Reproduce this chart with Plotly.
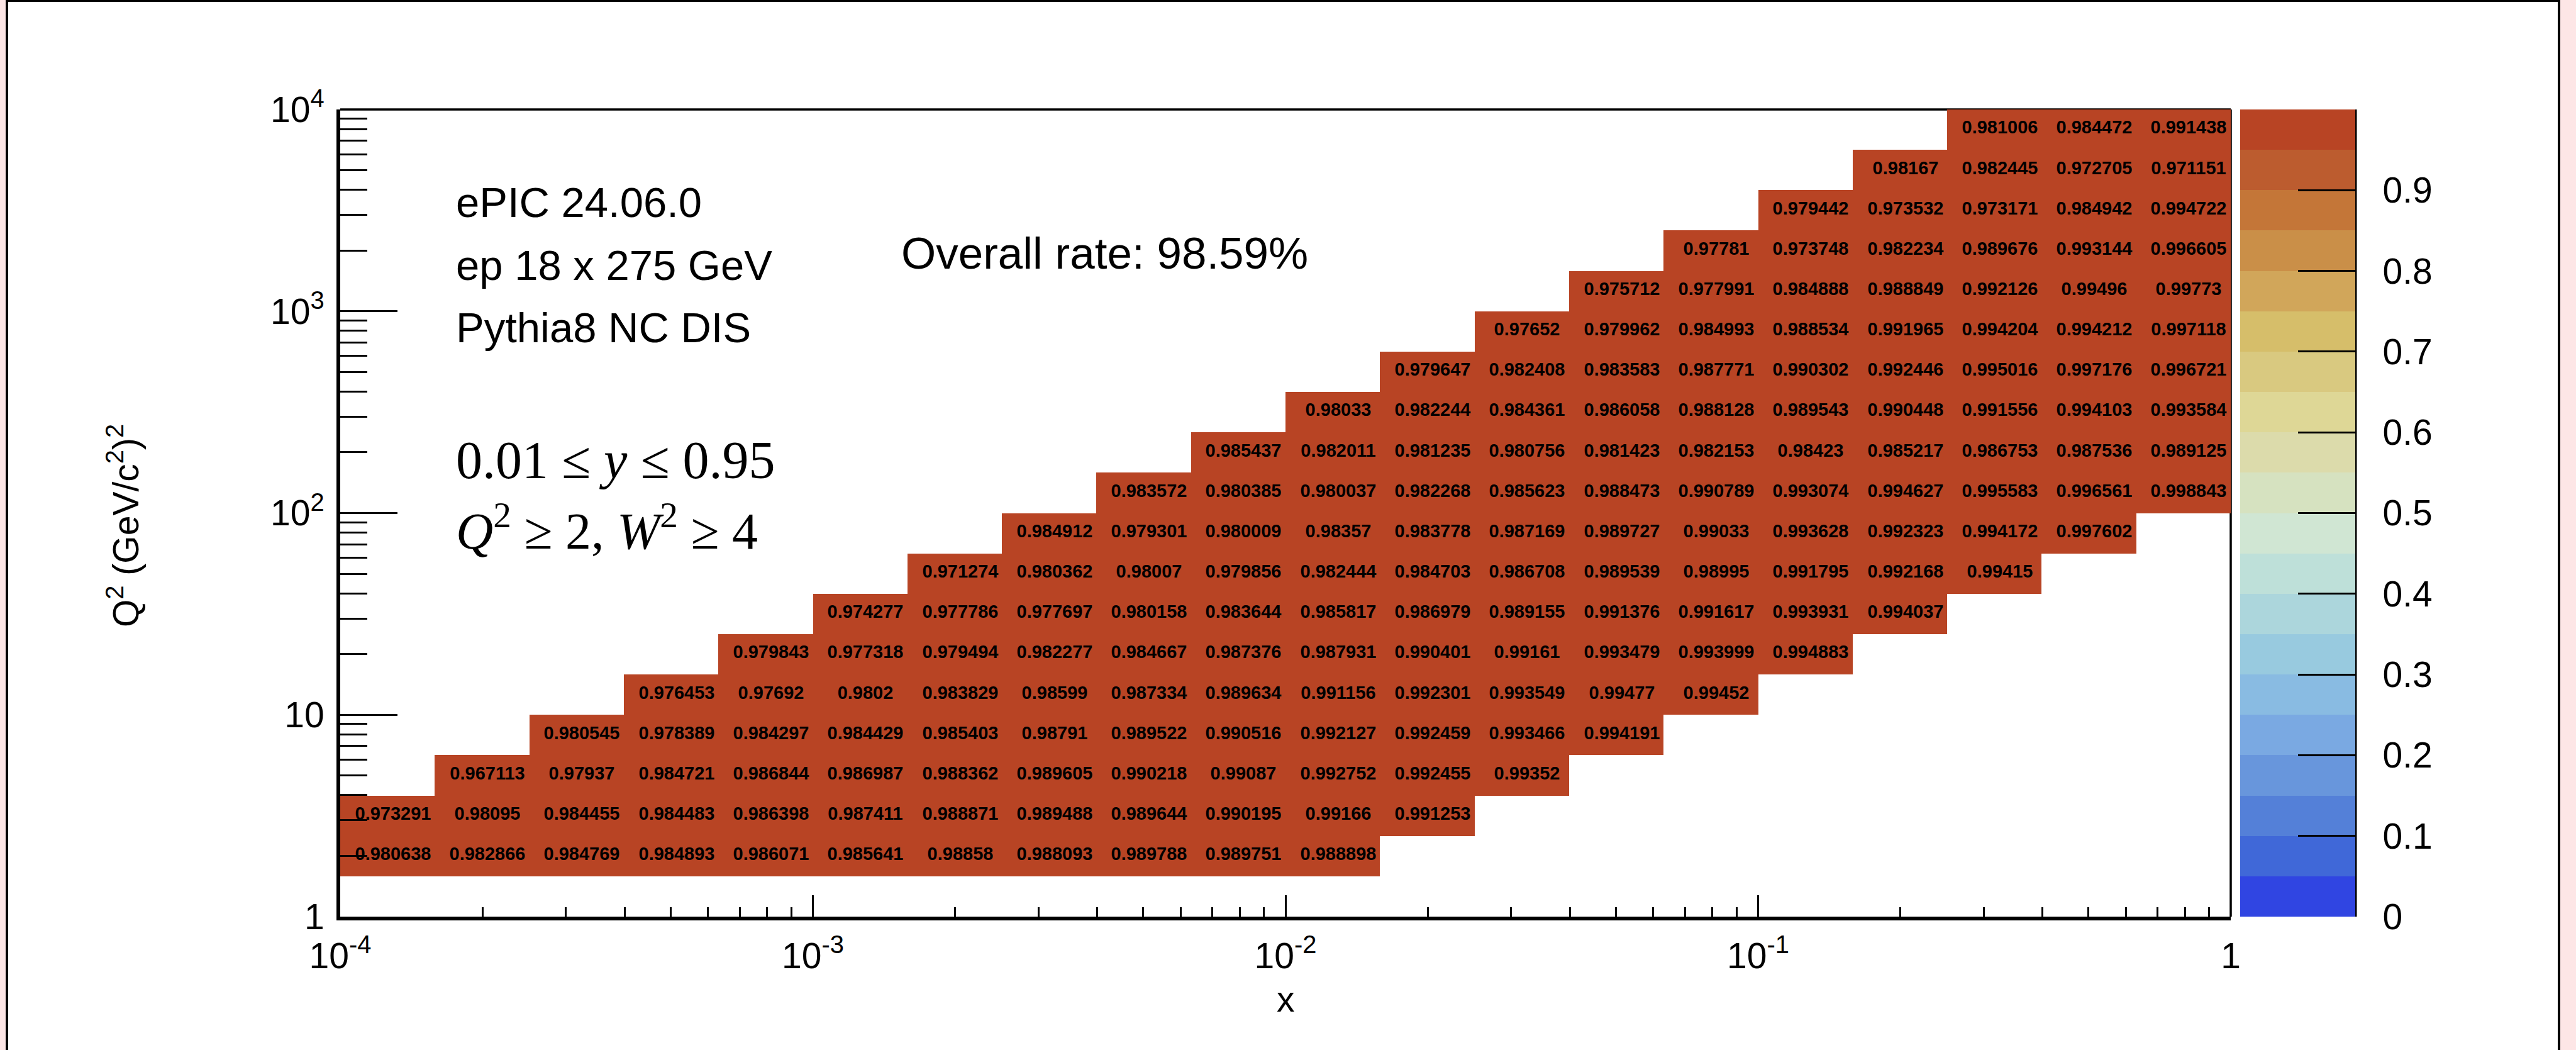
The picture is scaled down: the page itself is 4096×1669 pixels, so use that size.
import plotly.graph_objects as go

# ---------------- data ----------------
# log-spaced bin edges: 20 bins in x (1e-4 .. 1) and 20 bins in Q2 (1 .. 1e4)
x_edges = [10 ** (-4 + 0.2 * i) for i in range(21)]
q2_edges = [10 ** (0.2 * j) for j in range(21)]

# reconstruction rate per (x, Q2) bin; each Q2 row starts at the x bin given in first_x_bin
q2_bin_01 = [0.980638, 0.982866, 0.984769, 0.984893, 0.986071, 0.985641, 0.98858, 0.988093, 0.989788, 0.989751, 0.988898]
q2_bin_02 = [0.973291, 0.98095, 0.984455, 0.984483, 0.986398, 0.987411, 0.988871, 0.989488, 0.989644, 0.990195, 0.99166, 0.991253]
q2_bin_03 = [0.967113, 0.97937, 0.984721, 0.986844, 0.986987, 0.988362, 0.989605, 0.990218, 0.99087, 0.992752, 0.992455, 0.99352]
q2_bin_04 = [0.980545, 0.978389, 0.984297, 0.984429, 0.985403, 0.98791, 0.989522, 0.990516, 0.992127, 0.992459, 0.993466, 0.994191]
q2_bin_05 = [0.976453, 0.97692, 0.9802, 0.983829, 0.98599, 0.987334, 0.989634, 0.991156, 0.992301, 0.993549, 0.99477, 0.99452]
q2_bin_06 = [0.979843, 0.977318, 0.979494, 0.982277, 0.984667, 0.987376, 0.987931, 0.990401, 0.99161, 0.993479, 0.993999, 0.994883]
q2_bin_07 = [0.974277, 0.977786, 0.977697, 0.980158, 0.983644, 0.985817, 0.986979, 0.989155, 0.991376, 0.991617, 0.993931, 0.994037]
q2_bin_08 = [0.971274, 0.980362, 0.98007, 0.979856, 0.982444, 0.984703, 0.986708, 0.989539, 0.98995, 0.991795, 0.992168, 0.99415]
q2_bin_09 = [0.984912, 0.979301, 0.980009, 0.98357, 0.983778, 0.987169, 0.989727, 0.99033, 0.993628, 0.992323, 0.994172, 0.997602]
q2_bin_10 = [0.983572, 0.980385, 0.980037, 0.982268, 0.985623, 0.988473, 0.990789, 0.993074, 0.994627, 0.995583, 0.996561, 0.998843]
q2_bin_11 = [0.985437, 0.982011, 0.981235, 0.980756, 0.981423, 0.982153, 0.98423, 0.985217, 0.986753, 0.987536, 0.989125]
q2_bin_12 = [0.98033, 0.982244, 0.984361, 0.986058, 0.988128, 0.989543, 0.990448, 0.991556, 0.994103, 0.993584]
q2_bin_13 = [0.979647, 0.982408, 0.983583, 0.987771, 0.990302, 0.992446, 0.995016, 0.997176, 0.996721]
q2_bin_14 = [0.97652, 0.979962, 0.984993, 0.988534, 0.991965, 0.994204, 0.994212, 0.997118]
q2_bin_15 = [0.975712, 0.977991, 0.984888, 0.988849, 0.992126, 0.99496, 0.99773]
q2_bin_16 = [0.97781, 0.973748, 0.982234, 0.989676, 0.993144, 0.996605]
q2_bin_17 = [0.979442, 0.973532, 0.973171, 0.984942, 0.994722]
q2_bin_18 = [0.98167, 0.982445, 0.972705, 0.971151]
q2_bin_19 = [0.981006, 0.984472, 0.991438]

first_x_bin = [None, 0, 0, 1, 2, 3, 4, 5, 6, 7, 8, 9, 10, 11, 12, 13, 14, 15, 16, 17]
row_values = [None, q2_bin_01, q2_bin_02, q2_bin_03, q2_bin_04, q2_bin_05, q2_bin_06,
              q2_bin_07, q2_bin_08, q2_bin_09, q2_bin_10, q2_bin_11, q2_bin_12, q2_bin_13,
              q2_bin_14, q2_bin_15, q2_bin_16, q2_bin_17, q2_bin_18, q2_bin_19]

x_tick_vals = [1e-4, 1e-3, 1e-2, 1e-1, 1]
x_tick_text = ["10<sup>-4</sup>", "10<sup>-3</sup>", "10<sup>-2</sup>", "10<sup>-1</sup>", "1"]
y_tick_vals = [1, 10, 100, 1000, 10000]
y_tick_text = ["1", "10", "10<sup>2</sup>", "10<sup>3</sup>", "10<sup>4</sup>"]
cb_tick_vals = [0, 0.1, 0.2, 0.3, 0.4, 0.5, 0.6, 0.7, 0.8, 0.9]
cb_tick_text = ["0", "0.1", "0.2", "0.3", "0.4", "0.5", "0.6", "0.7", "0.8", "0.9"]

overall_rate_text = "Overall rate: 98.59%"
info_lines = ["ePIC 24.06.0", "ep 18 x 275 GeV", "Pythia8 NC DIS"]

# palette bands (bottom -> top), 20 discrete levels between 0 and 1
palette = ["#3045e2", "#4068d8", "#5480d8", "#6896dc", "#7aa9e2", "#89bbe2", "#98cadf",
           "#acd6dc", "#bee0d9", "#d0e6d3", "#d6e2c0", "#dcdbab", "#ded796", "#d9c980",
           "#d6be6a", "#d1a65a", "#ca8f48", "#c47638", "#bc5c2f", "#b84424"]

# ---------------- build grid ----------------
nx, ny = 20, 20
z = [[None] * nx for _ in range(ny)]
txt = [[""] * nx for _ in range(ny)]
for j in range(ny):
    vals = row_values[j]
    if vals is None:
        continue
    for k, v in enumerate(vals):
        i = first_x_bin[j] + k
        z[j][i] = v
        txt[j][i] = str(v)

colorscale = []
n = len(palette)
for k, c in enumerate(palette):
    colorscale.append([k / n, c])
    colorscale.append([(k + 1) / n, c])

# ---------------- geometry (pixels in 4096x1669) ----------------
W, H = 4096, 1669
L, R, T, B = 541, 3547, 174, 1457
pw, ph = R - L, B - T


def px(xpix):
    return (xpix - L) / pw


def py(ypix):
    return (B - ypix) / ph


TICK_FONT = dict(family="Liberation Sans", size=57, color="black")
NB = "\u00a0\u00a0"

fig = go.Figure()
fig.add_trace(go.Heatmap(
    x=x_edges, y=q2_edges, z=z, text=txt,
    texttemplate="<b>%{text}</b>",
    textfont=dict(family="Liberation Sans", size=29, color="black"),
    colorscale=colorscale, zmin=0, zmax=1,
    hoverongaps=False,
    colorbar=dict(
        x=px(3562), xanchor="left", xpad=0,
        y=0.5, yanchor="middle", ypad=0,
        len=1, lenmode="fraction",
        thickness=183, thicknessmode="pixels",
        outlinewidth=0,
        tickmode="array", tickvals=cb_tick_vals, ticktext=[NB + t for t in cb_tick_text],
        ticks="inside", ticklen=91, tickwidth=3, tickcolor="black",
        tickfont=TICK_FONT,
        ticklabelposition="outside",
    ),
))

fig.update_xaxes(
    type="log", range=[-4, 0],
    showgrid=False, zeroline=False,
    showline=True, linecolor="black", linewidth=6,
    ticks="inside", ticklen=34, tickwidth=3, tickcolor="black",
    tickmode="array", tickvals=x_tick_vals, ticktext=x_tick_text,
    tickfont=TICK_FONT,
    ticklabelstandoff=8,
    minor=dict(ticks="inside", ticklen=15, tickwidth=3, tickcolor="black",
               dtick="D1", showgrid=False),
)
fig.update_yaxes(
    type="log", range=[0, 4],
    showgrid=False, zeroline=False,
    showline=True, linecolor="black", linewidth=6,
    ticks="inside", ticklen=91, tickwidth=3, tickcolor="black",
    tickmode="array", tickvals=y_tick_vals, ticktext=y_tick_text,
    tickfont=TICK_FONT,
    ticklabelstandoff=8,
    minor=dict(ticks="inside", ticklen=43, tickwidth=3, tickcolor="black",
               dtick="D1", showgrid=False),
)

annotations = []
for line, ypix in zip(info_lines, [321, 421, 520]):
    annotations.append(dict(text=line, x=px(723), y=py(ypix), xref="paper", yref="paper",
                            xanchor="left", yanchor="middle", showarrow=False,
                            font=dict(family="Liberation Sans", size=67, color="black")))
annotations.append(dict(text=overall_rate_text, x=px(1431), y=py(402), xref="paper", yref="paper",
                        xanchor="left", yanchor="middle", showarrow=False,
                        font=dict(family="Liberation Sans", size=71, color="black")))
annotations.append(dict(text="0.01 \u2264 <i>y</i> \u2264 0.95", x=px(723), y=py(731),
                        xref="paper", yref="paper", xanchor="left", yanchor="middle",
                        showarrow=False,
                        font=dict(family="Liberation Serif", size=84, color="black")))
annotations.append(dict(text="<i>Q</i><sup>2</sup> \u2265 2, <i>W</i><sup>2</sup> \u2265 4", x=px(723), y=py(838),
                        xref="paper", yref="paper", xanchor="left", yanchor="middle",
                        showarrow=False,
                        font=dict(family="Liberation Serif", size=82, color="black")))
annotations.append(dict(text="Q<sup>2</sup> (GeV/c<sup>2</sup>)<sup>2</sup>", x=px(196), y=py(836),
                        xref="paper", yref="paper", xanchor="center", yanchor="middle",
                        textangle=-90, showarrow=False,
                        font=dict(family="Liberation Sans", size=57, color="black")))
annotations.append(dict(text="x", x=0.5, y=py(1588), xref="paper", yref="paper",
                        xanchor="center", yanchor="middle", showarrow=False,
                        font=dict(family="Liberation Sans", size=57, color="black")))

shapes = [
    # frame top / right (hidden under the filled cells)
    dict(type="line", xref="paper", yref="paper", x0=0, x1=1, y0=1, y1=1,
         line=dict(color="black", width=3.5), layer="below"),
    dict(type="line", xref="paper", yref="paper", x0=1, x1=1, y0=0, y1=1,
         line=dict(color="black", width=3.5), layer="below"),
    # palette axis line
    dict(type="line", xref="paper", yref="paper", x0=px(3745), x1=px(3745), y0=0, y1=1,
         line=dict(color="black", width=5), layer="above"),
    # canvas border strips
    dict(type="rect", xref="paper", yref="paper", x0=px(-5), x1=px(11), y0=py(1675), y1=py(-5),
         fillcolor="#fde6e6", line=dict(width=0), layer="above"),
    dict(type="rect", xref="paper", yref="paper", x0=px(4069), x1=px(4100), y0=py(1675), y1=py(-5),
         fillcolor="#fde6e6", line=dict(width=0), layer="above"),
    dict(type="line", xref="paper", yref="paper", x0=px(11), x1=px(11), y0=py(1675), y1=py(-5),
         line=dict(color="black", width=4), layer="above"),
    dict(type="line", xref="paper", yref="paper", x0=px(4069), x1=px(4069), y0=py(1675), y1=py(-5),
         line=dict(color="black", width=4), layer="above"),
    dict(type="line", xref="paper", yref="paper", x0=px(11), x1=px(4069), y0=py(1.5), y1=py(1.5),
         line=dict(color="black", width=3), layer="above"),
]

fig.update_layout(
    width=W, height=H, autosize=False,
    margin=dict(l=L, r=W - R, t=T, b=H - B, pad=0),
    paper_bgcolor="white", plot_bgcolor="white",
    showlegend=False,
    annotations=annotations,
    shapes=shapes,
)

fig.write_html("out.html")
